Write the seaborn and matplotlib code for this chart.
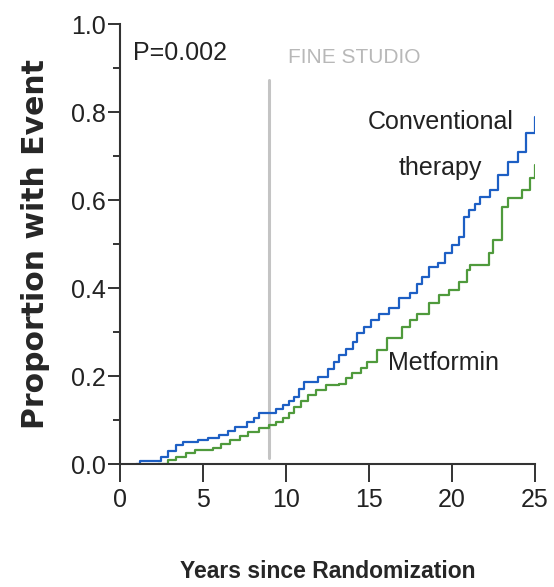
import pandas as pd
import matplotlib.pyplot as plt
import seaborn as sns

# curvas de incidencia acumulada
anos_conv = [0.97, 1.2, 2.45, 2.9, 3.4, 3.8, 4.7, 5.3, 5.96, 6.5, 6.9, 7.66, 8.1, 8.4,
             9.4, 9.8, 10.2, 10.5, 10.8, 11.06, 11.9, 12.55, 12.9, 13.2, 13.6, 14.04,
             14.25, 14.7, 15.1, 15.6, 16.2, 16.8, 17.45, 17.9, 18.2, 18.6, 19.15, 19.6,
             20.0, 20.4, 20.7, 21.0, 21.4, 21.7, 22.3, 22.77, 23.4, 24.0, 24.45, 25.0]
prop_conv = [0.0, 0.007, 0.017, 0.03, 0.043, 0.05, 0.055, 0.06, 0.066, 0.075, 0.085,
             0.096, 0.105, 0.117, 0.125, 0.134, 0.143, 0.153, 0.17, 0.187, 0.198, 0.217,
             0.232, 0.248, 0.262, 0.278, 0.298, 0.312, 0.327, 0.34, 0.354, 0.377, 0.388,
             0.41, 0.426, 0.448, 0.456, 0.479, 0.498, 0.517, 0.562, 0.578, 0.592, 0.608,
             0.623, 0.657, 0.687, 0.71, 0.752, 0.788]

anos_met = [2.3, 2.9, 3.4, 4.0, 4.5, 5.6, 6.1, 6.6, 7.2, 7.7, 8.4, 9.0, 9.4, 9.8, 10.2,
            10.5, 10.9, 11.3, 11.8, 12.4, 13.2, 13.6, 14.0, 14.5, 14.9, 15.5, 16.1, 17.0,
            17.5, 17.9, 18.6, 19.2, 19.8, 20.4, 20.9, 21.1, 22.2, 22.5, 23.0, 23.4, 24.2,
            24.7, 25.0]
prop_met = [0.0, 0.009, 0.017, 0.025, 0.032, 0.036, 0.045, 0.055, 0.064, 0.073, 0.082,
            0.089, 0.096, 0.104, 0.117, 0.130, 0.143, 0.157, 0.168, 0.180, 0.183, 0.195,
            0.206, 0.218, 0.232, 0.259, 0.286, 0.312, 0.327, 0.342, 0.365, 0.384, 0.395,
            0.414, 0.441, 0.452, 0.479, 0.509, 0.585, 0.604, 0.623, 0.650, 0.680]

grupos = ["Conventional therapy", "Metformin"]
cores = {"Conventional therapy": "#1d5fc4", "Metformin": "#4f9a3c"}
ano_marcador = 9.0

df = pd.concat([
    pd.DataFrame({"anos": anos_conv, "prop": prop_conv, "grupo": grupos[0]}),
    pd.DataFrame({"anos": anos_met, "prop": prop_met, "grupo": grupos[1]}),
], ignore_index=True)

sns.set_style("ticks")
plt.rcParams["font.family"] = ["Liberation Sans", "DejaVu Sans"]

fig = plt.figure(figsize=(5.54, 5.87), dpi=100)
ax = fig.add_axes([0.2166, 0.2095, 0.7491, 0.7495])

sns.lineplot(data=df, x="anos", y="prop", hue="grupo", palette=cores,
             drawstyle="steps-post", estimator=None, linewidth=1.6,
             legend=False, ax=ax)

# linha vertical cinza de referencia
ax.axvline(ano_marcador, ymin=0.014, ymax=0.873, color="#c4c4c4", linewidth=2.2, zorder=0)

ax.set_xlim(0, 25)
ax.set_ylim(0, 1.0)
ax.set_xticks([0, 5, 10, 15, 20, 25])
ax.set_yticks([0.0, 0.2, 0.4, 0.6, 0.8, 1.0])
ax.set_yticks([0.1, 0.3, 0.5, 0.7, 0.9], minor=True)
ax.set_yticklabels(["0.0", "0.2", "0.4", "0.6", "0.8", "1.0"])

for s in ["top", "right"]:
    ax.spines[s].set_visible(False)
for s in ["left", "bottom"]:
    ax.spines[s].set_linewidth(1.5)
    ax.spines[s].set_color("#333333")
    ax.spines[s].set_clip_on(False)

ax.tick_params(axis="y", which="major", length=9, width=1.4, color="#333333",
               labelsize=18, pad=1, labelcolor="#222222")
ax.tick_params(axis="y", which="minor", length=5, width=1.4, color="#333333")
ax.tick_params(axis="x", length=13, width=1.4, color="#333333",
               labelsize=18, pad=4, labelcolor="#222222")

ax.set_xlabel("Years since Randomization", fontsize=16.5, fontweight="bold", labelpad=35)
ax.set_ylabel("Proportion with Event", fontsize=21.5, fontweight="bold",
              family="DejaVu Sans", labelpad=15)

ax.text(0.8, 0.935, "P=0.002", fontsize=18, color="#222222", va="center")
ax.text(19.3, 0.778, "Conventional", fontsize=18, color="#222222", ha="center", va="center")
ax.text(19.3, 0.672, "therapy", fontsize=18, color="#222222", ha="center", va="center")
ax.text(19.5, 0.23, "Metformin", fontsize=18, color="#222222", ha="center", va="center")
fig.text(0.64, 0.902, "FINE STUDIO", fontsize=15, color="#b8b8b8",
         ha="center", va="center")

fig.savefig("out.png", dpi=100)
